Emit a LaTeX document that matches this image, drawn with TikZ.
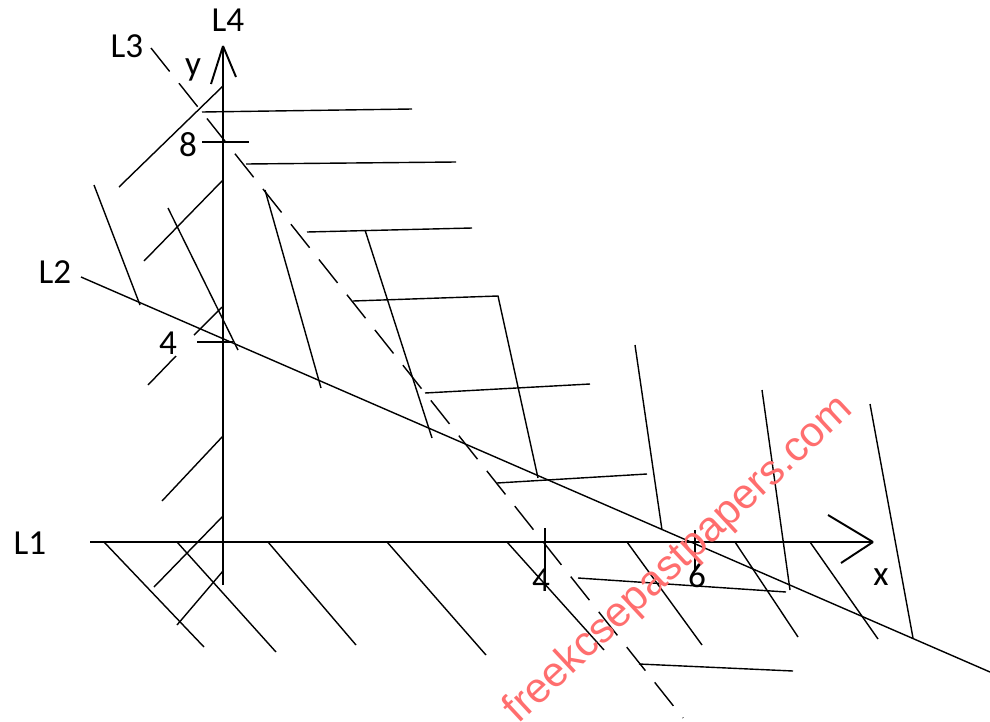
\documentclass[tikz,border=0pt]{standalone}
\usepackage{fontspec}
\setmainfont{Carlito}
\newfontfamily\sitefont{Liberation Sans}
\usepackage{xcolor}
\usepackage{tikz}
\usetikzlibrary{calc}
\definecolor{sitered}{HTML}{FF6E6E}
\tikzset{
  axis/.style={draw=black,line width=1.1pt},
  hatch/.style={draw=black,line width=0.8pt},
  bound/.style={draw=black,line width=0.8pt},
  dashbound/.style={draw=black,line width=0.8pt,dash pattern=on 6mm off 3mm},
  lbl/.style={font=\fontsize{20}{24}\selectfont,inner sep=0pt},
  wmark/.style={font=\sitefont\fontsize{24}{28}\selectfont,text=sitered,inner sep=0pt}
}

\begin{document}
\begin{tikzpicture}[x=0.2mm,y=-0.2mm]
  \useasboundingbox (0,0) rectangle (990,721);
  \coordinate (xstart) at (90,542);
  \coordinate (xtip) at (873,542);
  \coordinate (ystart) at (223,585);
  \coordinate (ytip) at (223,46);
  \draw[axis] (xstart) -- (xtip);
  \draw[axis] (xtip) -- (828,515);
  \draw[axis] (xtip) -- (841,563);
  \draw[axis] (ystart) -- (ytip);
  \draw[axis] (ytip) -- (211,84);
  \draw[axis] (ytip) -- (236,77);
  \draw[bound] (202,142) -- (249,142);
  \draw[bound] (197,342) -- (233,342);
  \draw[bound] (545,528) -- (545,572);
  \draw[bound] (695,530) -- (695,570);
  \coordinate (ltwoa) at (81,277);
  \coordinate (ltwob) at (990,672);
  \draw[bound] (ltwoa) -- (ltwob);
  \coordinate (lthreea) at (151,48);
  \coordinate (lthreeb) at (683,718);
  \draw[dashbound] (lthreea) -- (lthreeb);
  \foreach \a/\b in {{223,86}/{119,187},{202,112}/{412,109},{246,164}/{456,162},{223,180}/{144,261},
    {94,185}/{140,305},{168,208}/{238,350},{222,307}/{194,335},{176,356}/{148,385},
    {265,190}/{321,388},{307,232}/{472,228},{365,230}/{432,438},{425,393}/{590,384},
    {635,345}/{662,530},{497,483}/{647,474},{762,390}/{790,590},{870,404}/{913,638},
    {578,578}/{786,592},{639,664}/{793,671},{223,436}/{162,501},{223,516}/{154,587},
    {223,571}/{177,625},{104,542}/{204,647},{177,542}/{276,652},{268,542}/{356,645},
    {387,542}/{486,655},{507,542}/{604,650},{627,542}/{702,645},{735,542}/{798,637},
    {810,542}/{878,639}}
    \draw[hatch] (\a) -- (\b);
  \draw[hatch] (353,301) -- (498,296) -- (538,478);
  \node[lbl] (lfour) at (228,20) {L4};
  \node[lbl] (lthree) at (127,46) {L3};
  \node[lbl] (ylab) at (193,70) {y};
  \node[lbl] (eight) at (188,145) {8};
  \node[lbl] (yfour) at (168,343) {4};
  \node[lbl] (ltwo) at (55,272) {L2};
  \node[lbl] (lone) at (30,543) {L1};
  \node[lbl] (xfour) at (541,580) {4};
  \node[lbl] (six) at (697,576) {6};
  \node[lbl] (xlab) at (881,577) {x};
  \node[wmark,rotate=43] (site) at (679,560) {freekcsepastpapers.com};
\end{tikzpicture}
\end{document}
